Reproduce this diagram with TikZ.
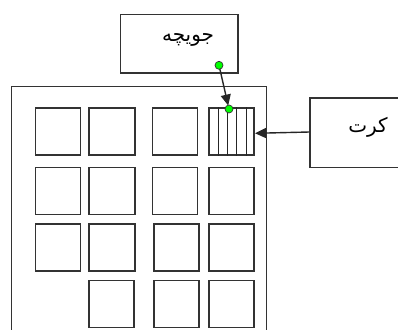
\documentclass[tikz,border=0pt]{standalone}
\usepackage{fontspec}
\newfontfamily\arabicfont[Script=Arabic]{DejaVu Sans}
\TeXXeTstate=1
\usetikzlibrary{arrows.meta,calc}
\begin{document}
\begin{tikzpicture}[x=1pt,y=-1pt,line width=1.2pt,
  plot/.style={draw=black!80,minimum width=45pt,minimum height=47pt,inner sep=0pt,anchor=north west},
  box/.style={draw=black!80,inner sep=0pt,anchor=north west},
  lbl/.style={inner sep=0pt,font=\arabicfont\fontsize{20}{24}\selectfont},
  dot/.style={circle,fill=green,draw=black!80,line width=0.7pt,minimum size=8pt,inner sep=0pt},
  arr/.style={-{Triangle[length=11pt,width=10pt]},line width=1.4pt,draw=black!85}]
\useasboundingbox (0,0) rectangle (398,329);
\clip (0,0) rectangle (398,329);
% outer field (open at bottom)
\draw[draw=black!80] (11.7,330) -- (11.7,86.7) -- (266.7,86.7) -- (266.7,330);
% plots
\node[plot] (p11) at (35,107.3) {};
\node[plot,minimum width=46pt] (p12) at (88.3,107.3) {};
\node[plot] (p13) at (151.7,107.3) {};
\node[plot] (p14) at (208.3,107.3) {};
\node[plot] (p21) at (35,166.7) {};
\node[plot,minimum width=46pt] (p22) at (88.3,166.7) {};
\node[plot] (p23) at (151.7,166.7) {};
\node[plot] (p24) at (208.3,166.7) {};
\node[plot] (p31) at (35,223.3) {};
\node[plot,minimum width=46pt] (p32) at (88.3,223.3) {};
\node[plot] (p33) at (153.3,223.3) {};
\node[plot] (p34) at (208.3,223.3) {};
\node[plot] (p42) at (88.3,280) {};
\node[plot] (p43) at (153.3,280) {};
\node[plot] (p44) at (208.3,280) {};
% hatching of the plot
\foreach \dx in {10,19.4,28.4,37.7}
  \draw[line width=1pt,draw=black!85] ($(p14.north west)+(\dx,0)$) -- ($(p14.south west)+(\dx,0)$);
% label boxes
\node[box,minimum width=117.3pt,minimum height=58.3pt] (jb) at (120,14) {};
\node[lbl] (jt) at (188,40) {\beginR جویچه\endR};
\node[box,minimum width=100pt,minimum height=69.5pt] (kb) at (309.3,97.3) {};
\node[lbl] (kt) at (368,127) {\beginR کرت\endR};
% connectors
\coordinate (d1) at (219,65.3);
\coordinate (d2) at (229,109);
\coordinate (ks) at (309.3,132);
\coordinate (ke) at (255,133.3);
\draw[arr,shorten >=3.5pt] (d1) -- (d2);
\draw[arr] (ks) -- (ke);
\node[dot] at (d1) {};
\node[dot] at (d2) {};
\end{tikzpicture}
\end{document}
